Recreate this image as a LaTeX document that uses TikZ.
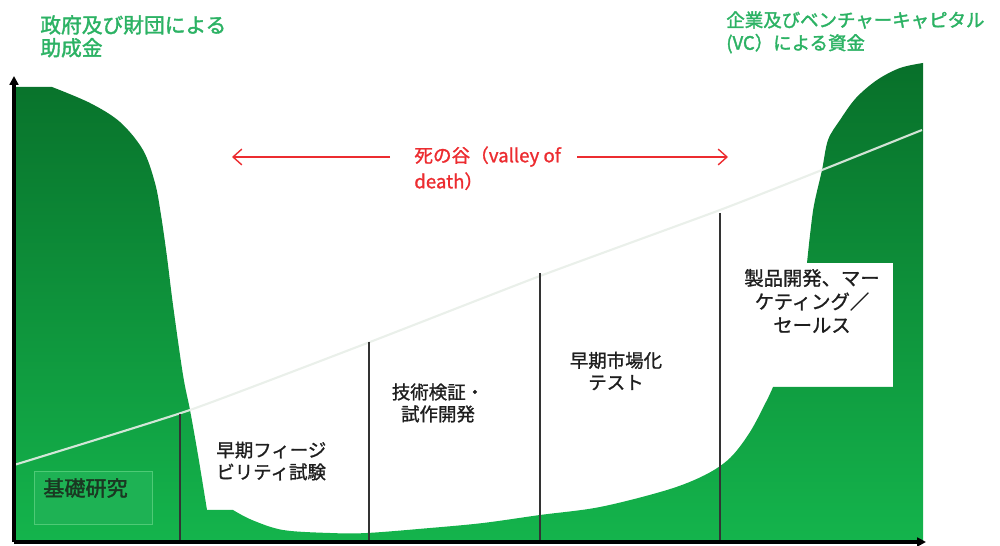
\documentclass[tikz,border=0pt]{standalone}
\usepackage{fontspec}
\setmainfont{Noto Sans CJK JP}
\newfontfamily\jpmed{Noto Sans CJK JP}[FakeBold=1.2]
\newfontfamily\jpbold{Noto Sans CJK JP}[FakeBold=1.8]
\usetikzlibrary{arrows.meta}
\definecolor{gtop}{RGB}{8,112,42}
\definecolor{gbot}{RGB}{20,180,76}
\definecolor{gtext}{RGB}{44,178,100}
\definecolor{rtext}{RGB}{236,44,48}
\definecolor{boxg}{RGB}{30,178,84}
\definecolor{boxb}{RGB}{78,202,118}
\definecolor{lbl}{RGB}{30,30,30}
\definecolor{diag}{RGB}{232,238,232}
\begin{document}
\begin{tikzpicture}[x=0.02cm,y=-0.02cm,
  axis/.style={line width=1.8pt,-{Triangle[length=5pt,width=5pt]}},
  divider/.style={line width=0.8pt,draw=black!80},
  stagelbl/.style={text=lbl,font=\jpmed\fontsize{10.5}{12.5}\selectfont,inner sep=0},
  fundlbl/.style={text=gtext,font=\jpbold\fontsize{11.8}{13}\selectfont,inner sep=0,align=left},
  redarrow/.style={draw=rtext,line width=0.8pt,-{Straight Barb[length=5pt,width=9pt]}}]
\useasboundingbox (0,0) rectangle (1000,546);
% green funding area
\shade[top color=gtop,bottom color=gbot]
  (14,541) -- (14,87) -- (52,87)
  -- plot[smooth,tension=0.55] coordinates {(52,87) (90,103) (120,122) (143,150) (155,183) (161,215) (167,257) (173,305) (183,375) (190,410) (198,455) (207,510)}
  -- (233,510)
  -- plot[smooth,tension=0.55] coordinates {(233,510) (252,520) (283,530) (330,533) (367,533) (430,528) (483,523) (540,515) (600,507) (667,490) (705,475) (730,458) (750,432) (767,400) (773,387)}
  -- (893,387) -- (893,263) -- (807,263)
  -- plot[smooth,tension=0.55] coordinates {(807,263) (810,235) (814,205) (822,170) (828,140) (840,120) (856,98) (877,80) (900,68) (923,63)}
  -- (923,541) -- cycle;
% rising line
\draw[diag,line width=1.2pt,opacity=0.9] plot[smooth,tension=0.3] coordinates {(14,465) (190,410) (370,342) (540,276) (720,210) (822,170) (922,130)};
% stage dividers
\coordinate (d1t) at (180,414); \coordinate (d1b) at (180,541);
\coordinate (d2t) at (369,342); \coordinate (d2b) at (369,541);
\coordinate (d3t) at (540,273); \coordinate (d3b) at (540,541);
\coordinate (d4t) at (720,213); \coordinate (d4b) at (720,541);
\draw[divider] (d1t) -- (d1b);
\draw[divider] (d2t) -- (d2b);
\draw[divider] (d3t) -- (d3b);
\draw[divider] (d4t) -- (d4b);
% axes
\coordinate (org) at (14,542);
\coordinate (ytip) at (14,76);
\coordinate (xtip) at (926,542);
\draw[axis] (org) -- (ytip);
\draw[axis] (org) -- (xtip);
% basic research box
\node (kiso) [draw=boxb,line width=0.5pt,fill=boxg,anchor=north west,minimum width=2.36cm,minimum height=1.06cm,inner sep=0] at (34,471) {};
\node (kisot) [anchor=west,text={rgb,255:red,26;green,56;blue,34},font=\jpbold\fontsize{12}{14}\selectfont,inner sep=0] at (43,488) {基礎研究};
% stage labels
\node (s1) [stagelbl,align=left,anchor=west] at (216,461) {早期フィージ\\ビリティ試験};
\node (s2) [stagelbl,align=center] at (438,403) {技術検証・\\試作開発};
\node (s3) [stagelbl,align=center] at (616,371) {早期市場化\\テスト};
\node (s4) [stagelbl,align=center,font=\jpmed\fontsize{11}{13.4}\selectfont] at (812,301) {製品開発、マー\\ケティング／\\セールス};
% funding labels
\node (gov) [fundlbl,anchor=north west] at (40,15) {政府及び財団による\\助成金};
\node (vc) [fundlbl,anchor=north west,font=\jpbold\fontsize{10.5}{13}\selectfont] at (726,11) {企業及びベンチャーキャピタル\\(VC）による資金};
% valley of death
\node (vod) [anchor=north west,text=rtext,font=\jpmed\fontsize{10.6}{14.8}\selectfont,inner sep=0,align=left] at (414,146) {死の谷（valley of\\death）};
\coordinate (la) at (390,157); \coordinate (lt) at (232,157);
\coordinate (ra) at (577,157); \coordinate (rt) at (728,157);
\draw[redarrow] (la) -- (lt);
\draw[redarrow] (ra) -- (rt);
\end{tikzpicture}
\end{document}
